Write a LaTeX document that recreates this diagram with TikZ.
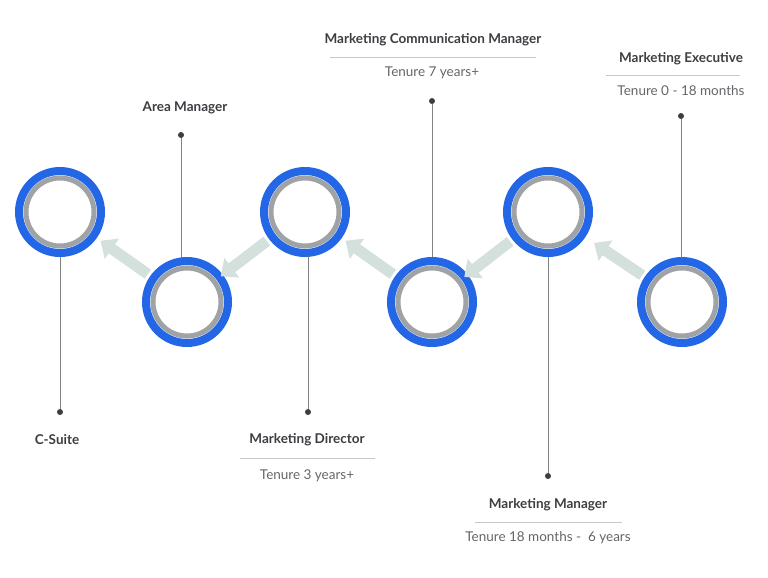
\documentclass[tikz,border=0pt]{standalone}
\usepackage{fontspec}
\setmainfont{Lato}
\usetikzlibrary{calc,arrows.meta}
\definecolor{ringblue}{RGB}{35,102,230}
\definecolor{ringgrey}{RGB}{160,163,166}
\definecolor{pale}{RGB}{212,224,220}
\definecolor{ink}{RGB}{60,62,66}
\tikzset{
  ring/.style={circle,draw=ringblue,line width=8pt,minimum size=82pt,inner sep=0pt,
    path picture={\draw[ringgrey,line width=5pt] (path picture bounding box.center) circle (34pt);}},
  step arrow/.style={pale,line width=11pt,-{Triangle[width=24pt,length=14pt]}},
  stem/.style={ringgrey!80!black,line width=0.8pt},
  pin/.style={circle,fill=ink,inner sep=0pt,minimum size=6pt},
  title/.style={font=\fontsize{13.5}{15}\selectfont\bfseries,text=ink},
  tenure/.style={font=\fontsize{13.5}{15}\selectfont,text=ink!80},
  rule/.style={ringgrey!60,line width=0.6pt}
}
\begin{document}
\begin{tikzpicture}[x=1pt,y=-1pt]
    \useasboundingbox (0,0) rectangle (768,578);
    % circles
    \node[ring] (cs) at (60,212) {};
    \node[ring] (am) at (187,302) {};
    \node[ring] (md) at (305,212) {};
    \node[ring] (mcm) at (432,302) {};
    \node[ring] (mm) at (548,212) {};
    \node[ring] (me) at (682,302) {};
    % arrows
    \foreach \a/\b in {me/mm,mm/mcm,mcm/md,md/am,am/cs}
        \draw[step arrow] ($(\a)!48pt!(\b)$) -- ($(\a)!106pt!(\b)$);
    % pins and labels
    \node[pin] (p1) at (60,412) {};
    \draw[stem] (cs.south) -- (p1);
    \node[title] at (57,440) {C-Suite};
    \node[pin] (p2) at (181,135) {};
    \draw[stem] (p2) -- (181,258);
    \node[title] at (185,108) {Area Manager};
    \node[pin] (p3) at (308,412) {};
    \draw[stem] (308,256) -- (p3);
    \node[title] at (307,440) {Marketing Director};
    \draw[rule] (240,458) -- (375,458);
    \node[tenure] at (307,476) {Tenure 3 years+};
    \node[pin] (p4) at (432,101) {};
    \draw[stem] (p4) -- (mcm.north);
    \node[title] at (433,40) {Marketing Communication Manager};
    \draw[rule] (330,57) -- (536,57);
    \node[tenure] at (432,73) {Tenure 7 years+};
    \node[pin] (p5) at (548,476) {};
    \draw[stem] (mm.south) -- (p5);
    \node[title] at (548,505) {Marketing Manager};
    \draw[rule] (475,522) -- (622,522);
    \node[tenure] at (548,538) {Tenure 18 months -~~6 years};
    \node[pin] (p6) at (681,116) {};
    \draw[stem] (p6) -- (681,258);
    \node[title] at (681,59) {Marketing Executive};
    \draw[rule] (606,75) -- (740,75);
    \node[tenure] at (681,91) {Tenure 0 - 18 months};
\end{tikzpicture}
\end{document}
